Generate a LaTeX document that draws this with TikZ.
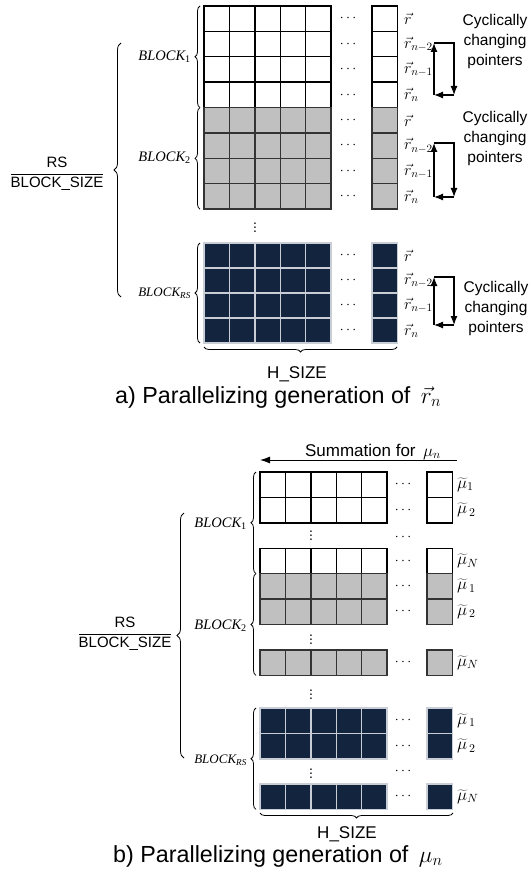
\RequirePackage{fix-cm}
\documentclass[tikz,border=0pt]{standalone}
\usepackage{fontspec}
\setmainfont{Liberation Sans}
\newfontfamily\timesfont{Liberation Serif}
\usetikzlibrary{arrows.meta, positioning, decorations.pathreplacing}
\definecolor{CellGray}{HTML}{C0C0C0}
\definecolor{CellNavy}{HTML}{13243F}
\definecolor{NavyLine}{HTML}{C9CED6}

% one row of the grid: style, left x, top y, x of last cell, height
\newcommand{\cellrow}[5]{%
  \foreach \c in {0,...,4}{\path[#1] ({#2+25.4*\c},#3) rectangle ++(25.4,#5);}
  \path[#1] (#4,#3) rectangle ++(25.4,#5);}

\begin{document}
\begin{tikzpicture}[
    x=1pt, y=-1pt,
    every node/.style={inner sep=0pt},
    cellfill/.style={fill=#1},
    cellline/.style={draw=#1, line width=1.4pt},
    blockbrace/.style={decorate, decoration={brace, amplitude=5pt}, line width=0.8pt},
    bigbrace/.style={decorate, decoration={brace, amplitude=7pt}, line width=0.8pt},
    blocklabel/.style={anchor=east, font=\fontsize{14.5}{16}\selectfont\timesfont\itshape},
    smallblocklabel/.style={anchor=east, font=\fontsize{13}{14}\selectfont\timesfont\itshape},
    veclabel/.style={anchor=west, font=\fontsize{16}{17}\selectfont},
    mulabel/.style={anchor=west, font=\fontsize{17}{18}\selectfont},
    dotslabel/.style={font=\fontsize{14}{16}\selectfont},
    pointerloop/.style={line width=1.2pt, -{Latex[length=9pt,width=7pt]}},
    pointertext/.style={align=center, font=\fontsize{15.5}{20}\selectfont},
    sizelabel/.style={anchor=base, font=\fontsize{17}{20}\selectfont},
    ratiolabel/.style={font=\fontsize{15}{18}\selectfont},
    figcaption/.style={anchor=base west, font=\fontsize{23.3}{28}\selectfont}
]
\useasboundingbox (0,0) rectangle (531,877);

% a) grid
\foreach \r in {0,...,3}{\cellrow{cellfill=white}{204}{6+25.4*\r}{372}{25.4}}
\foreach \r in {4,...,7}{\cellrow{cellfill=CellGray}{204}{6+25.4*\r}{372}{25.4}}
\foreach \r in {0,...,3}{\cellrow{cellfill=CellNavy}{204}{243+25*\r}{372}{25}}
\foreach \r in {0,...,3}{\cellrow{cellline=black}{204}{6+25.4*\r}{372}{25.4}}
\foreach \r in {4,...,7}{\cellrow{cellline=black!80}{204}{6+25.4*\r}{372}{25.4}}
\foreach \r in {0,...,3}{\cellrow{cellline=NavyLine}{204}{243+25*\r}{372}{25}}

\foreach \r in {0,...,7}{\node[dotslabel] (dotsA\r) at (348,18.7+25.4*\r) {$\cdots$};}
\foreach \r in {0,...,3}{\node[dotslabel] (dotsC\r) at (348,255.5+25*\r) {$\cdots$};}
\node[dotslabel] (vdotsA) at (255,225) {$\vdots$};

% row pointers
\foreach \b/\y in {A/18.7, B/120.3}{
  \node[veclabel] (r\b0) at (404,\y) {$\vec{r}$};
  \node[veclabel] (r\b1) at (404,\y+25.4) {$\vec{r}_{n-2}$};
  \node[veclabel] (r\b2) at (404,\y+50.8) {$\vec{r}_{n-1}$};
  \node[veclabel] (r\b3) at (404,\y+76.2) {$\vec{r}_{n}$};
}
\node[veclabel] (rC0) at (404,255.5) {$\vec{r}$};
\node[veclabel] (rC1) at (404,280.5) {$\vec{r}_{n-2}$};
\node[veclabel] (rC2) at (404,305.5) {$\vec{r}_{n-1}$};
\node[veclabel] (rC3) at (404,330.5) {$\vec{r}_{n}$};

% cyclically changing pointers
\foreach \k/\t/\b in {A/43/95, B/143/197, C/277/325}{
  \coordinate (lt\k) at (434,\t);
  \coordinate (rt\k) at (454,\t);
  \coordinate (rb\k) at (454,\b);
  \coordinate (lb\k) at (434,\b);
  \draw[pointerloop] (lb\k) -- (lt\k);
  \draw[pointerloop] (lt\k) -- (rt\k) -- (rb\k);
  \draw[pointerloop] (rb\k) -- (lb\k);
}
\node[pointertext] (ptrA) at (495,41) {Cyclically\\changing\\pointers};
\node[pointertext] (ptrB) at (495,138) {Cyclically\\changing\\pointers};
\node[pointertext] (ptrC) at (496,308) {Cyclically\\changing\\pointers};

% block braces
\draw[blockbrace] (200,107.6) -- (200,6);
\draw[blockbrace] (200,209.2) -- (200,107.6);
\draw[blockbrace] (200,343) -- (200,243);
\node[blocklabel] (blkA1) at (191,57) {BLOCK\textsubscript{\upshape 1}};
\node[blocklabel] (blkA2) at (191,158) {BLOCK\textsubscript{\upshape 2}};
\node[smallblocklabel] (blkA3) at (191,293) {BLOCK\textsubscript{RS}};
\draw[bigbrace] (121,297) -- (121,43);
\node[ratiolabel] (ratioA) at (57,174) {$\displaystyle\frac{\mbox{RS}}{\mbox{BLOCK\_SIZE}}$};

\draw[blockbrace] (397,347) -- (204,347);
\node[sizelabel] (hsizeA) at (297,378) {H\_SIZE};
\node[figcaption] (capA) at (115,403) {a) Parallelizing generation of \,$\vec{r}_n$};

% b) summation arrow
\coordinate (sumstart) at (457,460);
\coordinate (sumend) at (260,460);
\draw[line width=1pt, -{Latex[length=10pt,width=7pt]}] (sumstart) -- (sumend);
\node[sizelabel] (sumtext) at (373,456) {Summation for \,$\mu_n$};

% b) grid
\foreach \y in {472,497.4,548.2}{\cellrow{cellfill=white}{260}{\y}{427}{25.4}}
\foreach \y in {573.6,599,650}{\cellrow{cellfill=CellGray}{260}{\y}{427}{25.4}}
\foreach \y in {708,733.4,784}{\cellrow{cellfill=CellNavy}{260}{\y}{427}{25.4}}
\foreach \y in {472,497.4,548.2}{\cellrow{cellline=black}{260}{\y}{427}{25.4}}
\foreach \y in {573.6,599,650}{\cellrow{cellline=black!80}{260}{\y}{427}{25.4}}
\foreach \y in {708,733.4,784}{\cellrow{cellline=NavyLine}{260}{\y}{427}{25.4}}

\foreach \y [count=\i] in {484.7,510.1,537,560.9,586.3,611.7,662.7,720.7,746.1,771,796.7}{
  \node[dotslabel] (dotsB\i) at (403,\y) {$\cdots$};}
\foreach \y [count=\i] in {533,637,692,771}{
  \node[dotslabel] (vdotsB\i) at (311,\y) {$\vdots$};}

\node[mulabel] (muA1) at (457,484.7) {$\widetilde{\mu}_1$};
\node[mulabel] (muA2) at (457,510.1) {$\widetilde{\mu}_{\,2}$};
\node[mulabel] (muAN) at (457,560.9) {$\widetilde{\mu}_N$};
\node[mulabel] (muB1) at (457,586.3) {$\widetilde{\mu}_{\,1}$};
\node[mulabel] (muB2) at (457,611.7) {$\widetilde{\mu}_{\,2}$};
\node[mulabel] (muBN) at (457,662.7) {$\widetilde{\mu}_N$};
\node[mulabel] (muC1) at (457,720.7) {$\widetilde{\mu}_{\,1}$};
\node[mulabel] (muC2) at (457,746.1) {$\widetilde{\mu}_{\,2}$};
\node[mulabel] (muCN) at (457,796.7) {$\widetilde{\mu}_N$};

\draw[blockbrace] (256,573.6) -- (256,472);
\draw[blockbrace] (256,675.4) -- (256,573.6);
\draw[blockbrace] (256,809.4) -- (256,708);
\node[blocklabel] (blkB1) at (247,524) {BLOCK\textsubscript{\upshape 1}};
\node[blocklabel] (blkB2) at (247,626) {BLOCK\textsubscript{\upshape 2}};
\node[smallblocklabel] (blkB3) at (247,760) {BLOCK\textsubscript{RS}};
\draw[bigbrace] (184,758) -- (184,513);
\node[ratiolabel] (ratioB) at (125,634) {$\displaystyle\frac{\mbox{RS}}{\mbox{BLOCK\_SIZE}}$};

\draw[blockbrace] (453,813) -- (260,813);
\node[sizelabel] (hsizeB) at (347,838) {H\_SIZE};
\node[figcaption] (capB) at (113,862) {b) Parallelizing generation of \,$\mu_n$};

\end{tikzpicture}
\end{document}
